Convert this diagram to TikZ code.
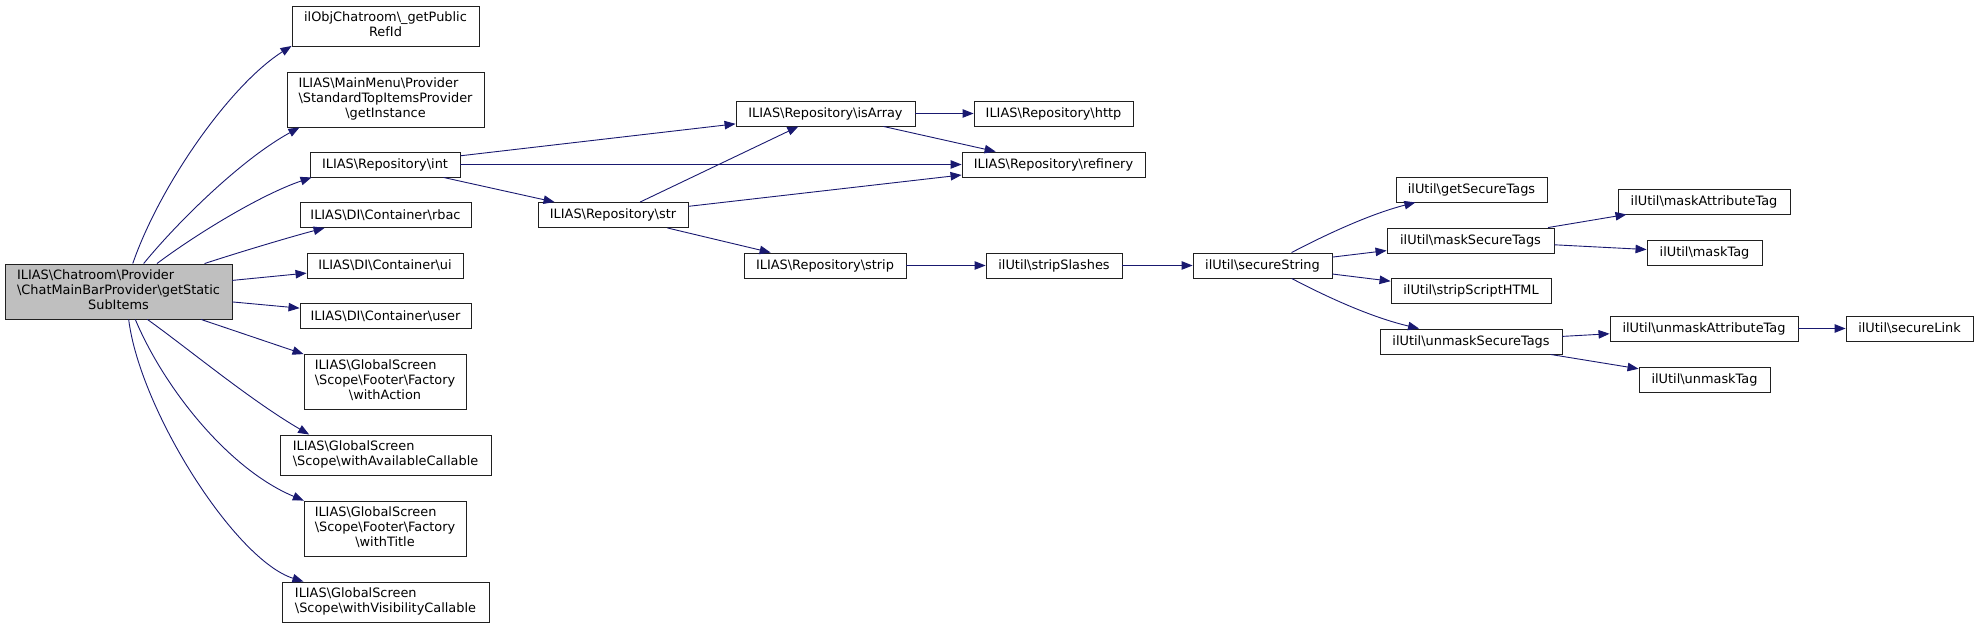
\documentclass[tikz,border=0pt]{standalone}
\usepackage{fontspec}
\setmainfont{DejaVu Sans}
\usetikzlibrary{arrows.meta}
\definecolor{edgec}{HTML}{191970}
\definecolor{mainfill}{HTML}{BFBFBF}
\definecolor{boxline}{HTML}{202020}
\newcommand{\bksl}{\textbackslash}
\newcommand{\lastln}[1]{\multicolumn{1}{@{}c@{}}{#1}}
\tikzset{
  box/.style={draw=boxline, line width=0.9pt, fill=white, inner sep=0pt, minimum height=25pt,
    font=\fontsize{12.9}{14.7}\selectfont},
  mainbox/.style={box, fill=mainfill},
  edge/.style={draw=edgec, line width=0.9pt, -{Triangle[length=11pt,width=8.5pt]}}
}
\begin{document}
\begin{tikzpicture}[x=1pt,y=-1pt]
\useasboundingbox (0,0) rectangle (1979,628);
% column 0
\node[mainbox, minimum width=227pt, minimum height=55pt] (m) at (118.5,291.5)
  {\begin{tabular}{@{}l@{}}ILIAS\bksl Chatroom\bksl Provider\\\bksl ChatMainBarProvider\bksl getStatic\\\lastln{SubItems}\end{tabular}};
% column 1
\node[box, minimum width=187pt, minimum height=40pt] (a1) at (385.5,26)
  {\begin{tabular}{@{}l@{}}ilObjChatroom\bksl\_getPublic\\\lastln{RefId}\end{tabular}};
\node[box, minimum width=197pt, minimum height=55pt] (a2) at (385.5,99.5)
  {\begin{tabular}{@{}l@{}}ILIAS\bksl MainMenu\bksl Provider\\\bksl StandardTopItemsProvider\\\lastln{\bksl getInstance}\end{tabular}};
\node[box, minimum width=150pt] (int) at (385,164.5) {ILIAS\bksl Repository\bksl int};
\node[box, minimum width=171pt] (rbac) at (385.5,215) {ILIAS\bksl DI\bksl Container\bksl rbac};
\node[box, minimum width=156pt] (ui) at (385,265.5) {ILIAS\bksl DI\bksl Container\bksl ui};
\node[box, minimum width=171pt] (user) at (385.5,316) {ILIAS\bksl DI\bksl Container\bksl user};
\node[box, minimum width=162pt, minimum height=55pt] (wa) at (385,381.5)
  {\begin{tabular}{@{}l@{}}ILIAS\bksl GlobalScreen\\\bksl Scope\bksl Footer\bksl Factory\\\lastln{\bksl withAction}\end{tabular}};
\node[box, minimum width=211pt, minimum height=40pt] (wac) at (385.5,455)
  {\begin{tabular}{@{}l@{}}ILIAS\bksl GlobalScreen\\\bksl Scope\bksl withAvailableCallable\end{tabular}};
\node[box, minimum width=162pt, minimum height=55pt] (wt) at (385,528.5)
  {\begin{tabular}{@{}l@{}}ILIAS\bksl GlobalScreen\\\bksl Scope\bksl Footer\bksl Factory\\\lastln{\bksl withTitle}\end{tabular}};
\node[box, minimum width=207pt, minimum height=40pt] (wvc) at (385.5,602)
  {\begin{tabular}{@{}l@{}}ILIAS\bksl GlobalScreen\\\bksl Scope\bksl withVisibilityCallable\end{tabular}};
% column 2-3
\node[box, minimum width=150pt] (str) at (613,215) {ILIAS\bksl Repository\bksl str};
\node[box, minimum width=179pt] (isarr) at (825.5,113.5) {ILIAS\bksl Repository\bksl isArray};
\node[box, minimum width=162pt] (strip) at (825,265.5) {ILIAS\bksl Repository\bksl strip};
\node[box, minimum width=159pt] (http) at (1053.5,113.5) {ILIAS\bksl Repository\bksl http};
\node[box, minimum width=183pt] (ref) at (1053.5,164.5) {ILIAS\bksl Repository\bksl refinery};
\node[box, minimum width=136pt] (slash) at (1054,265.5) {ilUtil\bksl stripSlashes};
\node[box, minimum width=139pt] (sec) at (1262.5,265.5) {ilUtil\bksl secureString};
% column 5
\node[box, minimum width=151pt] (gst) at (1471.5,189.5) {ilUtil\bksl getSecureTags};
\node[box, minimum width=167pt] (mst) at (1470.5,240.5) {ilUtil\bksl maskSecureTags};
\node[box, minimum width=160pt] (ssh) at (1471,291) {ilUtil\bksl stripScriptHTML};
\node[box, minimum width=182pt] (ust) at (1471,341.5) {ilUtil\bksl unmaskSecureTags};
% column 6-7
\node[box, minimum width=172pt] (mat) at (1704,201.5) {ilUtil\bksl maskAttributeTag};
\node[box, minimum width=115pt] (mt) at (1704.5,252.5) {ilUtil\bksl maskTag};
\node[box, minimum width=188pt] (uat) at (1704,328.5) {ilUtil\bksl unmaskAttributeTag};
\node[box, minimum width=131pt] (ut) at (1704.5,379.5) {ilUtil\bksl unmaskTag};
\node[box, minimum width=127pt] (sl) at (1909.5,328.5) {ilUtil\bksl secureLink};
% edges from main
\draw[edge] (m.63.85) .. controls (160,185) and (230,85) .. (a1.192.88);
\draw[edge] (m.48.3) .. controls (175,225) and (240,160) .. (a2.198.2);
\draw[edge] (m.36.25) .. controls (195,235) and (260,195) .. (int.190.4);
\draw[edge] (m.18) .. controls (240,252) and (290,237) .. (rbac.192.74);
\draw[edge] (m) -- (ui);
\draw[edge] (m) -- (user);
\draw[edge] (m) -- (wa);
\draw[edge] (m.-44) .. controls (190,350) and (250,400) .. (wac.165.2);
\draw[edge] (m.-59.04) .. controls (165,390) and (230,470) .. (wt.161);
\draw[edge] (m.-70.94) .. controls (140,410) and (235,560) .. (wvc.166.5);
% repository edges
\draw[edge] (int) -- (isarr);
\draw[edge] (int) -- (ref);
\draw[edge] (int) -- (str);
\draw[edge] (str) -- (isarr);
\draw[edge] (str) -- (ref);
\draw[edge] (str) -- (strip);
\draw[edge] (isarr) -- (http);
\draw[edge] (isarr) -- (ref);
\draw[edge] (strip) -- (slash);
\draw[edge] (slash) -- (sec);
% ilUtil edges
\draw[edge] (sec.24.4) .. controls (1325,235) and (1370,214) .. (gst.193.6);
\draw[edge] (sec) -- (mst);
\draw[edge] (sec) -- (ssh);
\draw[edge] (sec.-24.4) .. controls (1325,296) and (1370,317) .. (ust.166.2);
\draw[edge] (mst) -- (mat);
\draw[edge] (mst) -- (mt);
\draw[edge] (ust) -- (uat);
\draw[edge] (ust) -- (ut);
\draw[edge] (uat) -- (sl);
\end{tikzpicture}
\end{document}
